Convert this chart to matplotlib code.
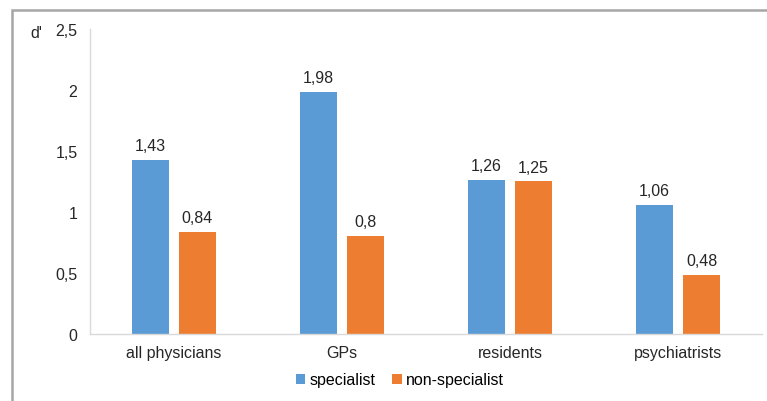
import numpy as np
import matplotlib.pyplot as plt
from matplotlib.patches import Rectangle

plt.rcParams['font.family'] = ['Liberation Sans', 'DejaVu Sans']

groups = ['all physicians', 'GPs', 'residents', 'psychiatrists']
specialist = [1.43, 1.98, 1.26, 1.06]
non_specialist = [0.84, 0.8, 1.25, 0.48]
yticks = [0, 0.5, 1, 1.5, 2, 2.5]


def comma(v):
    return f'{v:g}'.replace('.', ',')


fs = 11.5
fig = plt.figure(figsize=(7.67, 4.02), dpi=100)
ax = fig.add_axes([0.1173, 0.1667, 0.8762, 0.7587])

x = np.arange(len(groups))
w = 0.22
off = 0.14
b1 = ax.bar(x - off, specialist, w, color='#5B9BD5', label='specialist')
b2 = ax.bar(x + off, non_specialist, w, color='#ED7D31', label='non-specialist')

for bars, vals in ((b1, specialist), (b2, non_specialist)):
    for b, v in zip(bars, vals):
        ax.annotate(comma(v), (b.get_x() + b.get_width() / 2, v),
                    xytext=(0, 5), textcoords='offset points',
                    ha='center', va='bottom', fontsize=fs, color='#262626')

ax.set_xlim(-0.5, len(groups) - 0.5)
ax.set_ylim(0, 2.5)
ax.set_yticks(yticks)
ax.set_yticklabels([comma(t) for t in yticks])
ax.set_xticks(x)
ax.set_xticklabels(groups)
ax.tick_params(axis='both', length=0, labelsize=fs, colors='#262626')
ax.tick_params(axis='y', pad=9)
ax.tick_params(axis='x', pad=8)
for s in ['top', 'right']:
    ax.spines[s].set_visible(False)
for s in ['left', 'bottom']:
    ax.spines[s].set_color('#D9D9D9')
    ax.spines[s].set_linewidth(1)

fig.text(30 / 767, 1 - 33 / 402, "d'", fontsize=fs, color='#262626',
         ha='left', va='center')

fig.legend(loc='center', bbox_to_anchor=(400 / 767, 1 - 381 / 402), ncol=2,
           frameon=False, fontsize=fs, handlelength=0.6, handleheight=0.6,
           handletextpad=0.3, columnspacing=1.0)

fig.patches.append(Rectangle((12 / 767, -0.2), 1.2, 0.2 + 1 - 11 / 402,
                             transform=fig.transFigure, fill=False,
                             edgecolor='#A6A6A6', linewidth=1.8))

fig.savefig('out.png', dpi=100)
